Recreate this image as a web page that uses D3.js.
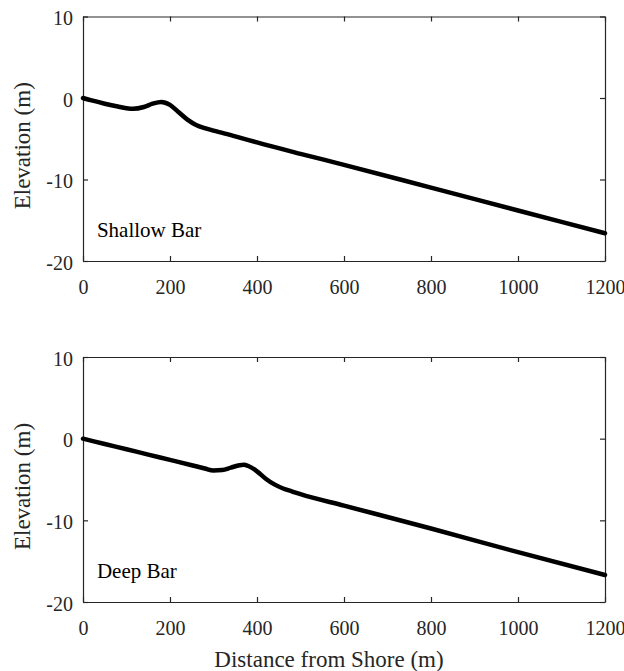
<!DOCTYPE html>
<html>
<head>
<meta charset="utf-8">
<script src="https://cdn.jsdelivr.net/npm/d3@7"></script>
<style>
  body { margin: 0; background: #fff; }
  svg text { font-family: "Liberation Serif", "Times New Roman", serif; fill: #262626; }
</style>
</head>
<body>
<svg id="chart" width="624" height="671"></svg>
<script>
// profile data (distance m, elevation m)
var shallowX = [0, 20, 50, 80, 100, 115, 140, 160, 180, 200, 220, 240, 260, 280, 300, 350, 400, 500, 600, 800, 1000, 1200];
var shallowY = [0, -0.3, -0.7, -1.05, -1.25, -1.32, -1.1, -0.7, -0.48, -0.85, -1.75, -2.65, -3.3, -3.7, -4.0, -4.7, -5.45, -6.85, -8.2, -11.0, -13.8, -16.6];

var deepX = [0, 50, 100, 150, 200, 250, 280, 300, 320, 340, 360, 370, 380, 400, 420, 440, 460, 480, 500, 600, 800, 1000, 1200];
var deepY = [0, -0.65, -1.3, -1.95, -2.6, -3.25, -3.65, -3.9, -3.85, -3.55, -3.25, -3.2, -3.35, -4.0, -4.9, -5.6, -6.1, -6.45, -6.8, -8.2, -11.0, -13.9, -16.7];

var xTicks = [0, 200, 400, 600, 800, 1000, 1200];
var yTicks = [-20, -10, 0, 10];
var panelLabels = ['Shallow Bar', 'Deep Bar'];
var xLabel = 'Distance from Shore (m)';
var yLabel = 'Elevation (m)';

var profiles = [
  shallowX.map(function(x, i) { return {x: x, y: shallowY[i]}; }),
  deepX.map(function(x, i) { return {x: x, y: deepY[i]}; })
];

const svg = d3.select('#chart');
const axisColor = '#262626';
const plain = function(d) { return String(d); };  // plain hyphen minus, no thousands comma

var left = 83, right = 605;
var panels = [{top: 16.5, bottom: 261}, {top: 357, bottom: 602}];

var x = d3.scaleLinear().domain([0, 1200]).range([left, right]);

panels.forEach(function(p, k) {
  var y = d3.scaleLinear().domain([-20, 10]).range([p.bottom, p.top]);
  const g = svg.append('g');

  // inward ticks on all four sides, like a boxed matlab axes
  var bottomAxis = g.append('g')
    .attr('transform', 'translate(0,' + p.bottom + ')')
    .call(d3.axisBottom(x).tickValues(xTicks).tickSize(-5).tickSizeOuter(0).tickPadding(19).tickFormat(plain));
  var topAxis = g.append('g')
    .attr('transform', 'translate(0,' + p.top + ')')
    .call(d3.axisTop(x).tickValues(xTicks).tickSize(-5).tickSizeOuter(0).tickFormat(''));
  var leftAxis = g.append('g')
    .attr('transform', 'translate(' + left + ',0)')
    .call(d3.axisLeft(y).tickValues(yTicks).tickSize(-5).tickSizeOuter(0).tickPadding(10).tickFormat(plain));
  var rightAxis = g.append('g')
    .attr('transform', 'translate(' + right + ',0)')
    .call(d3.axisRight(y).tickValues(yTicks).tickSize(-5).tickSizeOuter(0).tickFormat(''));

  g.selectAll('.domain').attr('stroke', axisColor).attr('stroke-width', 1.2);
  g.selectAll('.tick line').attr('stroke', axisColor).attr('stroke-width', 1.2);
  g.selectAll('.tick text')
    .attr('fill', axisColor)
    .style('font-family', '"Liberation Serif", "Times New Roman", serif')
    .style('font-size', '20px');
  leftAxis.selectAll('.tick text').attr('dy', '0.4em');

  var line = d3.line()
    .x(function(d) { return x(d.x); })
    .y(function(d) { return y(d.y); })
    .curve(d3.curveMonotoneX);

  g.append('path')
    .datum(profiles[k])
    .attr('fill', 'none')
    .attr('stroke', '#000')
    .attr('stroke-width', 4.5)
    .attr('stroke-linecap', 'round')
    .attr('stroke-linejoin', 'round')
    .attr('d', line);

  g.append('text')
    .attr('x', x(32))
    .attr('y', p.bottom - 24)
    .style('font-size', '21px')
    .style('fill', '#000')
    .text(panelLabels[k]);

  g.append('text')
    .attr('transform', 'translate(30,' + ((p.top + p.bottom) / 2 + 7) + ') rotate(-90)')
    .attr('text-anchor', 'middle')
    .style('font-size', '23px')
    .text(yLabel);
});

svg.append('text')
  .attr('x', 329)
  .attr('y', 667)
  .attr('text-anchor', 'middle')
  .style('font-size', '23px')
  .text(xLabel);
</script>
</body>
</html>
